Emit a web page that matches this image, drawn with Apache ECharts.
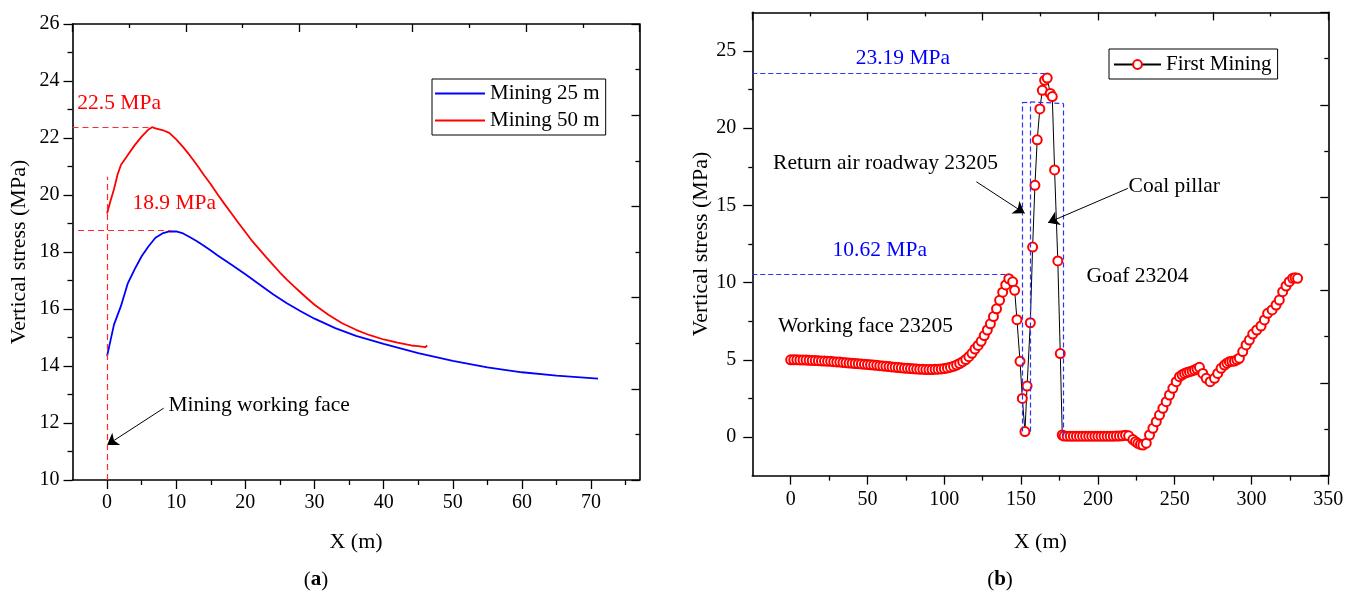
<!DOCTYPE html>
<html><head><meta charset="utf-8">
<script src="https://cdn.jsdelivr.net/npm/echarts@6/dist/echarts.min.js"></script>
<style>html,body{margin:0;padding:0;background:#fff}#c{width:1357px;height:599px}</style>
</head><body><div id="c"></div>
<script>
// ---------- DATA (a) ----------
const blueX = [0,0.5,1,2,3,4,5,6,7,8,9,10,11,12,13,14,15,16,18,20,22,24,26,28,30,33,36,40,45,50,55,60,65,71];
const blueY = [14.35,14.9,15.45,16.1,16.9,17.4,17.85,18.2,18.5,18.65,18.72,18.72,18.65,18.52,18.38,18.22,18.05,17.88,17.55,17.22,16.87,16.52,16.2,15.92,15.66,15.33,15.06,14.78,14.45,14.18,13.95,13.78,13.66,13.56];
const redX = [0,0.5,1,1.5,2,3,4,5,6,6.5,7,8,9,10,11,12,13,14,15,16,17,18,19,20,21,22,23,24,25,26,27,28,29,30,32,34,36,38,40,42,44,45,46,46.3];
const redY = [19.35,19.8,20.2,20.7,21.05,21.4,21.75,22.05,22.3,22.38,22.34,22.28,22.18,21.95,21.68,21.38,21.05,20.7,20.38,20.02,19.68,19.35,19.02,18.7,18.38,18.1,17.82,17.55,17.28,17.03,16.8,16.58,16.36,16.15,15.8,15.5,15.27,15.08,14.93,14.82,14.72,14.7,14.66,14.72];
const xLabelsA = [0,10,20,30,40,50,60,70];
const xMinorA = [5,15,25,35,45,55,65,75];

// ---------- DATA (b) ----------
const fmX = [0,2,4,6,8,10,12,14,16,18,20,22,24,26,28,30,32,34,36,38,40,42,44,46,48,50,52,54,56,58,60,62,64,66,68,70,72,74,76,78,80,82,84,86,88,90,92,94,96,98,100,102,104,106,108,110,112,114,116,118,120,122,124,126,128,130,132,134,136,138,140,142,
 144.5,145.8,147.3,149.3,150.8,152.5,153.9,156,157.5,159,160.5,162.2,163.8,165.3,167,169,170.3,171.8,173.9,175.5,176.8,
 178,180,182,184,186,188,190,192,194,196,198,200,202,204,206,208,210,212,214,216,218,220,
 222.8,224.5,226,227.7,229.3,231.5,233.6,235.8,238,240.1,242.3,244.5,246.6,248.8,251,253.1,254.8,256.4,258,259.6,261.3,262.9,264.5,266.1,268.3,270.5,273.1,275.9,278,280.2,282.4,284,285.6,287.2,288.9,290.5,292.1,294.3,296.5,298.6,300.8,303.4,306.2,308.4,310.5,313.4,316,318.1,320.3,322.5,324.6,326.8,328.4,330];
const fmY = [5.00,5.00,5.00,4.99,4.99,4.98,4.97,4.96,4.95,4.94,4.93,4.92,4.91,4.9,4.88,4.86,4.85,4.83,4.81,4.79,4.78,4.76,4.75,4.73,4.71,4.7,4.68,4.66,4.64,4.62,4.6,4.58,4.56,4.54,4.52,4.5,4.48,4.46,4.45,4.43,4.42,4.4,4.39,4.38,4.37,4.37,4.37,4.38,4.39,4.41,4.43,4.47,4.52,4.58,4.66,4.76,4.88,5.02,5.2,5.42,5.7,5.93,6.2,6.57,6.93,7.33,7.8,8.3,8.85,9.38,9.85,10.25,
 10.05,9.5,7.6,4.9,2.5,0.35,3.3,7.4,12.3,16.3,19.25,21.25,22.45,23.1,23.25,22.25,22.05,17.3,11.4,5.4,0.13,
 0.06,0.05,0.05,0.05,0.05,0.05,0.05,0.05,0.05,0.05,0.05,0.05,0.05,0.05,0.05,0.05,0.05,0.06,0.06,0.08,0.12,0.08,
 -0.17,-0.3,-0.41,-0.48,-0.52,-0.4,0.13,0.56,0.99,1.42,1.86,2.29,2.72,3.15,3.58,3.91,4.03,4.12,4.18,4.23,4.28,4.34,4.42,4.51,4.12,3.8,3.58,3.8,4.12,4.45,4.66,4.78,4.88,4.9,4.92,5.0,5.1,5.53,5.96,6.28,6.67,6.93,7.19,7.58,8.01,8.23,8.55,8.87,9.41,9.78,10.06,10.28,10.32,10.28];
const xLabelsB = [0,50,100,150,200,250,300,350];
const xMinorB = [25,75,125,175,225,275,325];
const yLabelsB = [0,5,10,15,20,25];
const yMinorB = [2.5,7.5,12.5,17.5,22.5];

const FONT = 'Liberation Serif';
const pairs = (xs, ys) => xs.map((x, i) => [x, ys[i]]);
const line = {show:true, onZero:false, lineStyle:{color:'#000', width:1.6}};
const noLine = {show:false, onZero:false};
const tickStyle = {color:'#000', width:1.3};
const lbl = {fontFamily:FONT, fontSize:20, color:'#000'};
const nameStyle = {fontFamily:FONT, fontSize:22, color:'#000'};

const redDash = {color:'#ff2a2a', width:1.2, type:[6,4]};
const blueDash = {color:'#2f2fff', width:1.2, type:[5,3]};
const arrowStyle = {color:'#000', width:1, type:'solid'};
function seg(a, b, style, arrow) {
  return [{coord:a, symbol:'none', lineStyle:style}, {coord:b, symbol: arrow ? 'arrow' : 'none', symbolSize: arrow ? 11 : 0}];
}

const chart = echarts.init(document.getElementById('c'), null, {renderer:'canvas'});
chart.setOption({
  animation:false,
  backgroundColor:'#fff',
  grid:[
    {left:72.5, top:24, width:567, height:456},
    {left:752.3, top:12.4, width:576, height:463.2}
  ],
  legend:[
    {data:['Mining 25 m','Mining 50 m'], orient:'vertical', left:432, top:79, icon:'rect',
     borderColor:'#000', borderWidth:1, borderRadius:0, padding:[4,6,4,3], itemWidth:50, itemHeight:2, itemGap:6,
     textStyle:{fontFamily:FONT, fontSize:21, color:'#000', lineHeight:21}},
    {data:['First Mining'], orient:'vertical', left:1109, top:49,
     borderColor:'#000', borderWidth:1, borderRadius:0, padding:[5,6,4,4], itemWidth:47, itemHeight:11, itemGap:6,
     textStyle:{fontFamily:FONT, fontSize:21, color:'#000', lineHeight:21}}
  ],
  xAxis:[
    {gridIndex:0, type:'value', position:'bottom', min:-5, max:77, axisLine:line,
     axisTick:{show:true, customValues:xLabelsA, length:9, lineStyle:tickStyle},
     axisLabel:Object.assign({customValues:xLabelsA, margin:13}, lbl), splitLine:{show:false},
     name:'X (m)', nameLocation:'middle', nameGap:51, nameTextStyle:nameStyle},
    {gridIndex:0, type:'value', position:'bottom', min:-5, max:77, axisLine:noLine,
     axisTick:{show:true, customValues:xMinorA, length:5, lineStyle:tickStyle},
     axisLabel:{show:false}, splitLine:{show:false}},
    {gridIndex:0, type:'value', position:'top', min:-5, max:77, interval:16.4, axisLine:line,
     axisTick:{show:true, inside:true, length:8, lineStyle:tickStyle},
     minorTick:{show:true, splitNumber:2, length:4, lineStyle:tickStyle},
     axisLabel:{show:false}, splitLine:{show:false}},
    {gridIndex:1, type:'value', position:'bottom', min:-25, max:350, axisLine:line,
     axisTick:{show:true, customValues:xLabelsB, length:9, lineStyle:tickStyle},
     axisLabel:Object.assign({customValues:xLabelsB, margin:14}, lbl), splitLine:{show:false},
     name:'X (m)', nameLocation:'middle', nameGap:56, nameTextStyle:nameStyle},
    {gridIndex:1, type:'value', position:'bottom', min:-25, max:350, axisLine:noLine,
     axisTick:{show:true, customValues:xMinorB, length:5, lineStyle:tickStyle},
     axisLabel:{show:false}, splitLine:{show:false}},
    {gridIndex:1, type:'value', position:'top', min:-25, max:350, interval:75, axisLine:line,
     axisTick:{show:true, inside:true, length:8, lineStyle:tickStyle},
     minorTick:{show:true, splitNumber:2, length:4, lineStyle:tickStyle},
     axisLabel:{show:false}, splitLine:{show:false}}
  ],
  yAxis:[
    {gridIndex:0, type:'value', position:'left', min:10, max:26, interval:2, axisLine:line,
     axisTick:{show:true, length:9, lineStyle:tickStyle},
     minorTick:{show:true, splitNumber:2, length:5, lineStyle:tickStyle},
     axisLabel:Object.assign({margin:13}, lbl), splitLine:{show:false},
     name:'Vertical stress (MPa)', nameLocation:'middle', nameGap:42, nameTextStyle:nameStyle},
    {gridIndex:0, type:'value', position:'right', min:10, max:26, interval:3.2, axisLine:line,
     axisTick:{show:true, inside:true, length:8, lineStyle:tickStyle},
     minorTick:{show:true, splitNumber:2, length:4, lineStyle:tickStyle},
     axisLabel:{show:false}, splitLine:{show:false}},
    {gridIndex:1, type:'value', position:'left', min:-2.5, max:27.5, axisLine:line,
     axisTick:{show:true, customValues:yLabelsB, length:9, lineStyle:tickStyle},
     axisLabel:Object.assign({customValues:yLabelsB, margin:16}, lbl), splitLine:{show:false},
     name:'Vertical stress (MPa)', nameLocation:'middle', nameGap:38, nameTextStyle:nameStyle},
    {gridIndex:1, type:'value', position:'left', min:-2.5, max:27.5, axisLine:noLine,
     axisTick:{show:true, customValues:yMinorB, length:4, lineStyle:tickStyle},
     axisLabel:{show:false}, splitLine:{show:false}},
    {gridIndex:1, type:'value', position:'right', min:-2.5, max:27.5, interval:6, axisLine:line,
     axisTick:{show:true, inside:true, length:8, lineStyle:tickStyle},
     minorTick:{show:true, splitNumber:2, length:4, lineStyle:tickStyle},
     axisLabel:{show:false}, splitLine:{show:false}}
  ],
  series:[
    {name:'Mining 25 m', type:'line', xAxisIndex:0, yAxisIndex:0, data:pairs(blueX, blueY),
     symbol:'none', lineStyle:{color:'#0000ff', width:1.8}, itemStyle:{color:'#0000ff'},
     markLine:{silent:true, animation:false, label:{show:false}, symbol:['none','none'],
       data:[ seg([8.19,12.52],[0,11.23], arrowStyle, true) ]}},
    {name:'Mining 50 m', type:'line', xAxisIndex:0, yAxisIndex:0, data:pairs(redX, redY),
     symbol:'none', lineStyle:{color:'#ff0000', width:1.8}, itemStyle:{color:'#ff0000'},
     markLine:{silent:true, animation:false, label:{show:false}, symbol:['none','none'],
       data:[ seg([-5,22.38],[6.5,22.38], redDash), seg([-4.2,18.77],[9.3,18.77], redDash), seg([0,10],[0,20.64], redDash) ]}},
    {name:'First Mining', type:'line', xAxisIndex:3, yAxisIndex:2, data:pairs(fmX, fmY),
     symbol:'emptyCircle', symbolSize:9, showAllSymbol:true,
     itemStyle:{color:'#ff0000', borderWidth:1.2}, lineStyle:{color:'#000', width:1},
     markLine:{silent:true, animation:false, label:{show:false}, symbol:['none','none'],
       data:[
         seg([-25,23.55],[167.5,23.55], blueDash),
         seg([-25,10.56],[142.6,10.56], blueDash),
         seg([150.8,0.35],[150.8,21.7], blueDash),
         seg([156,0.35],[156,21.7], blueDash),
         seg([177.7,0.1],[177.7,21.6], blueDash),
         seg([150.8,21.7],[156,21.7], blueDash),
         seg([156,21.7],[177.7,21.6], blueDash),
         seg([120.9,16.53],[152.3,14.49], arrowStyle, true),
         seg([219.5,16.1],[167.5,13.88], arrowStyle, true)
       ]}}
  ]
});

// ---------- annotation texts ----------
const notes = [
  {g:0, p:[-4.3,23.23], t:'22.5 MPa', c:'#ff0000', a:'left'},
  {g:0, p:[3.66,19.72], t:'18.9 MPa', c:'#ff0000', a:'left'},
  {g:0, p:[8.87,12.63], t:'Mining working face', c:'#000', a:'left'},
  {g:1, p:[73,24.55], t:'23.19 MPa', c:'#0000ff', a:'center'},
  {g:1, p:[58,12.1], t:'10.62 MPa', c:'#0000ff', a:'center'},
  {g:1, p:[-11.5,17.75], t:'Return air roadway 23205', c:'#000', a:'left'},
  {g:1, p:[220,16.26], t:'Coal pillar', c:'#000', a:'left'},
  {g:1, p:[-8.3,7.14], t:'Working face 23205', c:'#000', a:'left'},
  {g:1, p:[192.5,10.38], t:'Goaf 23204', c:'#000', a:'left'}
];
const graphics = notes.map(n => {
  const px = chart.convertToPixel({gridIndex:n.g}, n.p);
  return {type:'text', x:px[0], y:px[1], silent:true, z:50,
    style:{text:n.t, fill:n.c, font:'21.5px "' + FONT + '"', textAlign:n.a, textVerticalAlign:'middle'}};
});
[['a',316],['b',1000]].forEach(([k, cx]) => {
  graphics.push({type:'text', x:cx, y:580, silent:true, z:50,
    style:{text:'({b|' + k + '})', fill:'#000', font:'21px "' + FONT + '"', textAlign:'center', textVerticalAlign:'middle',
      rich:{b:{fontFamily:FONT, fontSize:21, fontWeight:'bold', fill:'#000'}}}});
});
chart.setOption({graphic:graphics});
</script></body></html>
